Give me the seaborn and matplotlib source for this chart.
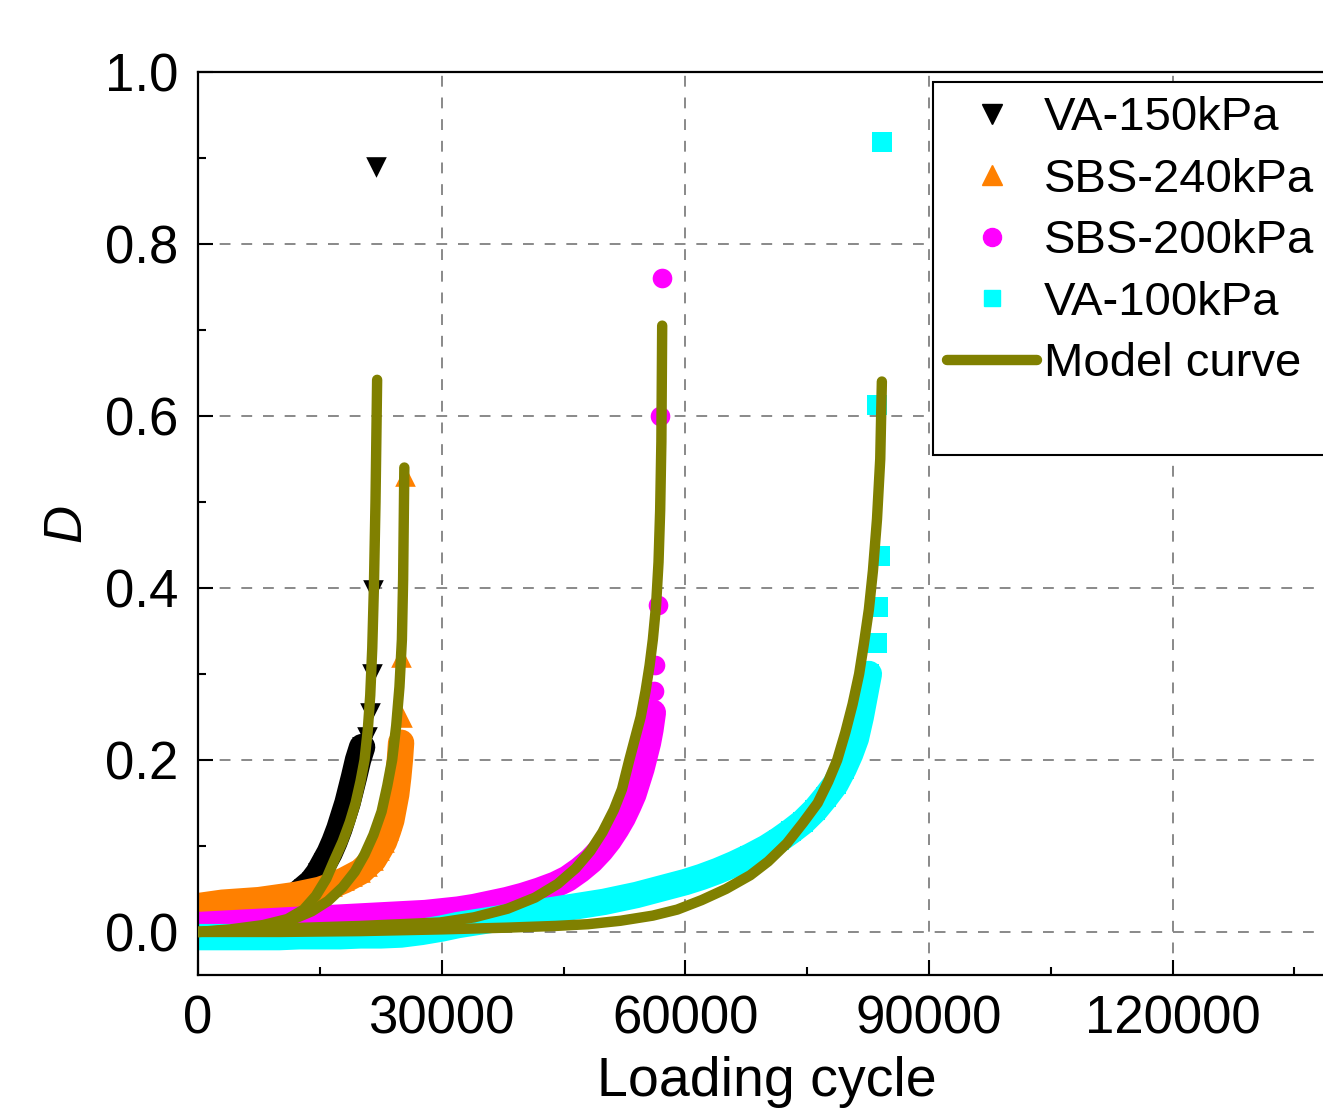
import matplotlib
matplotlib.use('Agg')
import matplotlib.pyplot as plt
import seaborn as sns
from matplotlib.lines import Line2D
from matplotlib.ticker import MultipleLocator

# test data (loading cycle, damage D)
va150_n = [0, 1500, 3000, 4500, 6000, 7500, 9000, 10500, 12000, 13000, 14000, 14800,
           15500, 16200, 16800, 17400, 17900, 18400, 18800, 19200, 19700, 20200,
           20800, 21200, 21450, 21580, 21950]
va150_d = [0.018, 0.02, 0.022, 0.024, 0.026, 0.029, 0.032, 0.036, 0.042, 0.05, 0.058, 0.068,
           0.08, 0.092, 0.105, 0.12, 0.135, 0.15, 0.165, 0.18, 0.2, 0.215,
           0.227, 0.255, 0.3, 0.398, 0.89]

sbs240_n = [0, 1500, 3000, 4500, 6000, 7500, 9000, 10500, 12000, 13500, 15000, 16500,
            18000, 19000, 20000, 20800, 21600, 22300, 22900, 23400, 23800, 24100,
            24400, 24650, 24850, 25000, 25100, 25050, 25500]
sbs240_d = [0.03, 0.032, 0.034, 0.035, 0.036, 0.037, 0.039, 0.041, 0.043, 0.046, 0.049, 0.054,
            0.06, 0.065, 0.07, 0.077, 0.084, 0.095, 0.105, 0.118, 0.13, 0.145,
            0.16, 0.18, 0.2, 0.22, 0.25, 0.32, 0.53]

sbs200_n = [0, 2000, 4000, 6000, 8000, 10000, 12000, 14000, 16000, 18000, 20000, 22000,
            24000, 26000, 28000, 30000, 32000, 34000, 36000, 38000, 40000, 42000,
            44000, 45500, 47000, 48400, 49600, 50600, 51500, 52300, 53000, 53600,
            54100, 54600, 55000, 55400, 55700, 56000, 56100, 56300, 56600, 56900, 57100]
sbs200_d = [0.008, 0.009, 0.01, 0.011, 0.012, 0.013, 0.014, 0.015, 0.016, 0.017, 0.018, 0.019,
            0.02, 0.021, 0.022, 0.024, 0.026, 0.029, 0.033, 0.037, 0.042, 0.048,
            0.055, 0.062, 0.072, 0.083, 0.095, 0.107, 0.12, 0.133, 0.147, 0.16,
            0.175, 0.19, 0.205, 0.22, 0.235, 0.255, 0.28, 0.31, 0.38, 0.6, 0.76]

va100_n = [0, 2500, 5000, 7500, 10000, 12500, 15000, 17500, 20000, 22500, 25000, 27500,
           30000, 32000, 34000, 36000, 38000, 40000, 42000, 44000, 46000, 48000,
           50000, 52000, 54000, 56000, 58000, 60000, 62000, 64000, 66000, 68000,
           70000, 71500, 73000, 74500, 76000, 77300, 78500, 79500, 80300, 81000,
           81600, 82100, 82600, 83600, 83700, 84000, 83600, 84200]
va100_d = [-0.006, -0.006, -0.006, -0.006, -0.006, -0.005, -0.005, -0.005, -0.004, -0.004, -0.003, 0.0,
           0.004, 0.008, 0.011, 0.014, 0.017, 0.02, 0.023, 0.026, 0.029, 0.032,
           0.035, 0.039, 0.043, 0.048, 0.053, 0.058, 0.064, 0.071, 0.079, 0.088,
           0.098, 0.107, 0.117, 0.128, 0.142, 0.157, 0.172, 0.19, 0.207, 0.225,
           0.25, 0.275, 0.3, 0.336, 0.378, 0.437, 0.613, 0.919]

# how many of the last points of each test stand apart from the dense band
va150_sparse = 5
sbs240_sparse = 3
sbs200_sparse = 5
va100_sparse = 5

# model curves
model_a_n = [0, 4000, 8000, 11000, 13000, 14500, 15800, 16800, 17800, 18700, 19400, 20000,
             20500, 20900, 21200, 21450, 21650, 21850, 22050]
model_a_d = [0.0, 0.003, 0.008, 0.015, 0.026, 0.042, 0.062, 0.084, 0.105, 0.128, 0.15, 0.175,
             0.2, 0.235, 0.275, 0.33, 0.4, 0.5, 0.642]
model_b_n = [0, 4000, 8000, 11000, 14000, 16000, 17800, 19300, 20500, 21600, 22600, 23300,
             23900, 24400, 24800, 25100, 25250, 25400]
model_b_d = [0.0, 0.002, 0.006, 0.012, 0.024, 0.036, 0.052, 0.07, 0.09, 0.113, 0.14, 0.17,
             0.2, 0.24, 0.285, 0.34, 0.41, 0.54]
model_c_n = [0, 10000, 20000, 29800, 34000, 38100, 41500, 44300, 46500, 48300, 49800, 51200,
             52200, 53100, 53800, 54500, 55100, 55600, 56000, 56400, 56700, 56900,
             57050, 57150]
model_c_d = [0.0, 0.004, 0.007, 0.011, 0.017, 0.027, 0.04, 0.056, 0.074, 0.094, 0.116, 0.142,
             0.166, 0.2, 0.225, 0.25, 0.28, 0.31, 0.34, 0.38, 0.43, 0.49,
             0.57, 0.705]
model_d_n = [0, 10000, 20000, 30000, 38000, 44000, 48000, 52000, 56000, 59000, 62000, 65000,
             68000, 70200, 72500, 74500, 76300, 77600, 78700, 79700, 80600, 81400,
             82000, 82600, 83100, 83600, 84000, 84200]
model_d_d = [0.0, 0.0, 0.001, 0.003, 0.005, 0.007, 0.009, 0.013, 0.019, 0.026, 0.037, 0.05,
             0.066, 0.082, 0.103, 0.127, 0.15, 0.175, 0.2, 0.232, 0.265, 0.3,
             0.336, 0.375, 0.42, 0.48, 0.55, 0.64]

labels = ['VA-150kPa', 'SBS-240kPa', 'SBS-200kPa', 'VA-100kPa', 'Model curve']
olive = '#808000'

sns.set_style('ticks')
plt.rcParams['font.family'] = ['Liberation Sans', 'DejaVu Sans']
plt.rcParams['text.color'] = 'black'
plt.rcParams['axes.labelcolor'] = 'black'

fig = plt.figure(figsize=(13.23, 11.15), dpi=100)
ax = fig.add_axes([0.1497, 0.1256, 0.8594, 0.8099])

tests = [
    (va150_n, va150_d, va150_sparse, 'v', 220, 'black'),
    (sbs240_n, sbs240_d, sbs240_sparse, '^', 220, '#FF8000'),
    (sbs200_n, sbs200_d, sbs200_sparse, 'o', 200, '#FF00FF'),
    (va100_n, va100_d, va100_sparse, 's', 190, '#00FFFF'),
]
for i, (xs, ys, k, mk, size, col) in enumerate(tests):
    z = 2.1 + i * 0.1
    # the many overlapping markers form a solid band
    sns.lineplot(x=xs[:-k], y=ys[:-k], sort=False, estimator=None, color=col,
                 linewidth=19, solid_joinstyle='round', ax=ax, zorder=z)
    sns.scatterplot(x=xs, y=ys, marker=mk, s=size, color=col, linewidth=0, ax=ax, zorder=z)

for xs, ys in [(model_a_n, model_a_d), (model_b_n, model_b_d),
               (model_c_n, model_c_d), (model_d_n, model_d_d)]:
    sns.lineplot(x=xs, y=ys, sort=False, estimator=None, color=olive, linewidth=7.5,
                 solid_capstyle='round', solid_joinstyle='round', ax=ax, zorder=4)

ax.set_xlim(0, 140000)
ax.set_ylim(-0.05, 1.0)
ax.xaxis.set_major_locator(MultipleLocator(30000))
ax.xaxis.set_minor_locator(MultipleLocator(15000))
ax.yaxis.set_major_locator(MultipleLocator(0.2))
ax.yaxis.set_minor_locator(MultipleLocator(0.1))
ax.yaxis.set_major_formatter(plt.FormatStrFormatter('%.1f'))

ax.set_axisbelow(True)
ax.grid(True, which='major', linestyle=(0, (6, 6)), color='#808080', linewidth=1.3)
ax.tick_params(which='both', direction='in', top=False, right=False, width=1.5, colors='black')
ax.tick_params(which='major', length=11, labelsize=38, pad=14)
ax.tick_params(which='minor', length=6)
for sp in ax.spines.values():
    sp.set_linewidth(1.6)
    sp.set_color('black')

ax.set_xlabel('Loading cycle', fontsize=40, labelpad=8, color='black')
ax.set_ylabel('D', fontsize=38, fontstyle='italic', labelpad=10, color='black')

handles = [
    Line2D([], [], marker='v', color='black', linestyle='none', markersize=14),
    Line2D([], [], marker='^', color='#FF8000', linestyle='none', markersize=14),
    Line2D([], [], marker='o', color='#FF00FF', linestyle='none', markersize=13),
    Line2D([], [], marker='s', color='#00FFFF', linestyle='none', markersize=12),
    Line2D([], [], color=olive, linewidth=7.5, solid_capstyle='round'),
    Line2D([], [], linestyle='none'),
]
leg = ax.legend(handles, labels + [' '], loc='upper left',
                bbox_to_anchor=(933 / 1323, 1 - 82 / 1115), bbox_transform=fig.transFigure,
                fontsize=34, frameon=True, fancybox=False, edgecolor='black', framealpha=1,
                handlelength=1.9, handletextpad=0.15, labelspacing=0.37, borderpad=0.3,
                borderaxespad=0)
leg.get_frame().set_linewidth(1.5)
leg.get_texts()[-1].set_fontsize(13)

fig.savefig('out.png', dpi=100)
